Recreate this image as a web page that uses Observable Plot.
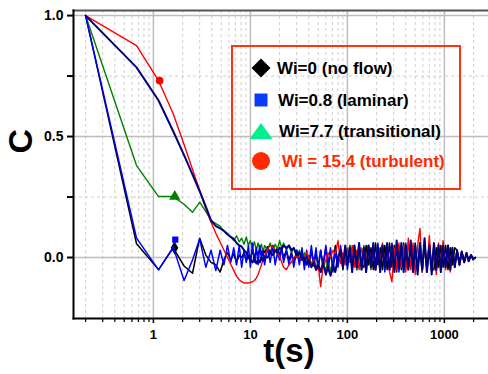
<!DOCTYPE html>
<html>
<head>
<meta charset="utf-8">
<script src="https://cdn.jsdelivr.net/npm/d3@7"></script>
<script src="https://cdn.jsdelivr.net/npm/@observablehq/plot@0.6"></script>
<style>
  html, body { margin: 0; padding: 0; background: #fff; }
  #wrap { position: relative; width: 488px; height: 374px; font-family: "Liberation Sans", Arial, sans-serif; }
  #legend { position: absolute; left: 231px; top: 45px; width: 230px; height: 145px; border: 2px solid #ff3311; box-sizing: border-box; }
  .lrow { position: absolute; left: 0; height: 22px; width: 220px; }
  .lrow svg { position: absolute; left: 15px; top: -1px; }
  .lrow span { position: absolute; top: 0; line-height: 22px; font-size: 17px; font-weight: bold; white-space: nowrap; }
</style>
</head>
<body>
<div id="wrap">
  <div id="chart"></div>
  <div id="legend"></div>
</div>
<script>
// ---- data ----
const times = [
  0.2, 0.67, 1.13, 1.6, 2.07, 2.53, 3.0, 3.47, 3.93, 4.4,
  4.87, 5.33, 5.8, 6.27, 6.73, 7.2, 7.67, 8.13, 8.6, 9.07,
  9.53, 10.0, 10.5, 11, 11.5, 12, 12.5, 13, 13.5, 14,
  15, 16, 17, 18, 19, 20, 21, 22, 23.5, 25,
  26.5, 28, 30, 32, 34, 36, 38, 40, 42.5, 45,
  47.5, 50, 53, 56, 60, 63, 67, 71, 75, 80,
  85, 90, 95, 100, 106, 112, 118, 125, 132, 140,
  148, 156, 165, 175, 185, 195, 206, 218, 230, 243,
  257, 272, 288, 305, 322, 340, 360, 380, 400, 425,
  450, 475, 500, 530, 560, 590, 625, 660, 700, 740,
  780, 825, 870, 920, 970, 1030, 1090, 1150, 1210, 1280,
  1350, 1430, 1510, 1600, 1690, 1780, 1880, 1980, 2080
];

const cNoFlow = [
  1.0, 0.057, -0.05, 0.04, -0.035, -0.065, 0.08, 0.01, -0.02, -0.03,
  -0.06, -0.01, 0.02, -0.01, 0.015, -0.02, 0.01, 0.0, 0.02, -0.015,
  0.01, 0.0, 0.025, 0.0, 0.03, 0.01, 0.04, 0.015, 0.035, 0.02,
  0.045, 0.02, 0.05, 0.025, 0.04, 0.01, 0.035, 0.0, 0.03, -0.01,
  0.02, -0.02, 0.03, -0.01, 0.02, -0.03, 0.01, -0.02, 0.025, -0.035,
  0.02, -0.04, 0.03, -0.03, 0.04, -0.05, 0.02, -0.04, 0.05, -0.03,
  0.03, -0.05, 0.04, -0.02, 0.05, -0.04, 0.03, -0.05, 0.04, -0.03,
  -0.04, 0.05, -0.03, 0.04, -0.05, 0.06, -0.03, 0.04, -0.05, 0.05,
  -0.05, 0.06, -0.04, 0.05, -0.06, 0.04, -0.05, 0.06, -0.04, 0.05,
  0.05, -0.04, 0.06, -0.05, 0.04, -0.06, 0.05, -0.04, 0.06, -0.05,
  -0.05, 0.04, -0.04, 0.05, -0.04, 0.05, -0.05, 0.04, -0.03, 0.04,
  0.03, -0.03, 0.02, -0.02, 0.015, -0.015, 0.01, -0.01, 0.0
];

const cLaminar = [
  1.0, 0.08, -0.051, 0.043, -0.095, -0.01, 0.077, -0.04, 0.03, -0.054,
  0.03, -0.03, 0.05, -0.02, 0.04, -0.03, 0.05, -0.04, 0.03, -0.02,
  0.05, -0.04, 0.06, -0.02, 0.04, -0.03, 0.05, -0.01, 0.03, -0.03,
  0.04, -0.02, 0.05, -0.03, 0.02, -0.01, 0.04, -0.02, 0.03, -0.03,
  0.02, -0.04, 0.03, -0.03, 0.04, -0.05, 0.03, -0.04, 0.05, -0.03,
  0.04, -0.05, 0.03, -0.04, 0.05, -0.03, 0.04, -0.06, 0.03, -0.04,
  0.05, -0.03, 0.04, -0.05, 0.03, -0.04, 0.05, -0.03, 0.06, -0.05,
  0.04, -0.06, 0.05, -0.04, 0.03, -0.05, 0.06, -0.04, 0.05, -0.06,
  0.04, -0.05, 0.06, -0.04, 0.05, -0.06, 0.04, -0.05, 0.06, -0.04,
  0.05, -0.06, 0.04, -0.05, 0.06, -0.04, 0.05, -0.06, 0.04, -0.05,
  0.05, -0.04, 0.04, -0.05, 0.04, -0.04, 0.05, -0.03, 0.03, -0.04,
  0.03, -0.02, 0.025, -0.02, 0.015, -0.01, 0.01, -0.005, 0.0
];

const cTransitional = [
  1.0, 0.38, 0.252, 0.252, 0.22, 0.187, 0.229, 0.19, 0.153, 0.14,
  0.13, 0.11, 0.1, 0.085, 0.07, 0.09, 0.065, 0.08, 0.055, 0.085,
  0.05, 0.07, 0.04, 0.065, 0.03, 0.06, 0.035, 0.055, 0.02, 0.05,
  0.03, 0.06, 0.025, 0.055, 0.035, 0.07, 0.04, 0.06, 0.03, 0.05,
  0.02, 0.04, 0.0, 0.03, -0.01, 0.02, -0.02, 0.01, -0.03, 0.0,
  -0.04, -0.02, -0.06, -0.03, -0.05, -0.01, -0.055, -0.02, 0.01, -0.03,
  0.03, -0.04, 0.02, -0.03, 0.05, -0.02, 0.04, -0.05, 0.03, -0.04,
  0.05, -0.03, 0.04, -0.05, 0.03, -0.04, 0.05, -0.03, 0.04, -0.05,
  0.03, -0.04, 0.05, -0.05, 0.04, -0.03, 0.05, -0.04, 0.03, -0.05,
  0.04, -0.05, 0.03, -0.04, 0.05, -0.06, 0.04, -0.03, 0.05, -0.04,
  0.03, -0.05, 0.04, -0.03, 0.04, -0.04, 0.03, -0.04, 0.03, -0.03,
  0.02, -0.03, 0.02, -0.02, 0.01, -0.015, 0.01, -0.005, 0.0
];

const cTurbulent = [
  1.0, 0.876, 0.731, 0.594, 0.467, 0.364, 0.277, 0.202, 0.146, 0.1,
  0.064, 0.031, 0.0, -0.028, -0.053, -0.077, -0.092, -0.1, -0.105, -0.105,
  -0.105, -0.103, -0.1, -0.095, -0.085, -0.07, -0.05, -0.03, -0.01, 0.005,
  0.035, 0.05, 0.045, 0.03, 0.015, 0.005, -0.02, -0.04, -0.05, -0.03,
  -0.02, 0.0, 0.008, 0.0, -0.01, -0.005, 0.02, 0.0, -0.03, -0.01,
  -0.054, -0.03, -0.12, -0.04, -0.01, 0.02, 0.0, 0.03, 0.016, 0.07,
  -0.025, 0.02, -0.03, 0.04, -0.02, 0.05, -0.04, 0.03, -0.05, 0.04,
  0.0, -0.04, 0.05, -0.03, 0.04, -0.05, 0.03, -0.02, 0.06, -0.04,
  0.05, -0.06, -0.1, 0.04, -0.05, 0.06, -0.04, 0.05, -0.06, 0.08,
  -0.05, 0.06, -0.07, 0.05, 0.12, -0.06, 0.07, -0.05, 0.09, -0.06,
  0.05, -0.07, 0.06, -0.04, 0.07, -0.05, 0.05, -0.06, 0.04, -0.04,
  0.03, -0.03, 0.025, -0.02, 0.02, -0.015, 0.01, -0.005, 0.0
];

const cNavy = [
  1.0, 0.786, 0.649, 0.522, 0.423, 0.343, 0.274, 0.21, 0.153, 0.13,
  0.12, 0.11, 0.095, 0.085, 0.077, 0.06, 0.05, 0.045, 0.03, 0.02,
  0.0, -0.01, -0.02, 0.0, -0.025, -0.01, -0.02, 0.0, -0.015, 0.005,
  0.0, 0.02, 0.01, 0.03, 0.02, 0.04, 0.035, 0.05, 0.04, 0.05,
  0.03, 0.04, 0.01, 0.02, -0.01, 0.0, -0.03, -0.01, -0.04, -0.02,
  -0.05, -0.03, -0.06, -0.02, -0.07, -0.04, -0.075, -0.03, -0.06, 0.0,
  0.03, -0.04, 0.05, -0.03, 0.04, -0.06, 0.05, -0.04, 0.06, -0.05,
  0.04, -0.06, 0.05, -0.04, 0.06, -0.05, 0.04, -0.06, 0.05, -0.04,
  0.06, -0.05, 0.05, -0.06, 0.07, -0.04, 0.06, -0.06, 0.05, -0.05,
  0.07, -0.06, 0.05, -0.07, 0.06, -0.05, 0.08, -0.06, 0.05, -0.07,
  0.06, -0.05, 0.05, -0.06, 0.05, -0.04, 0.05, -0.05, 0.04, -0.04,
  0.03, -0.03, 0.025, -0.02, 0.02, -0.015, 0.01, -0.005, 0.0
];

// markers on the curves
const markerT = [1.65, 1.68, 1.66, 1.16];
const markerC = [0.04, 0.074, 0.252, 0.731];

// legend
const legendLabels = ["Wi=0 (no flow)", "Wi=0.8 (laminar)", "Wi=7.7 (transitional)", "Wi = 15.4 (turbulent)"];
const legendSymbols = ["diamond", "square", "triangle", "circle"];
const legendMarkerColors = ["#000000", "#0a3cff", "#00f08c", "#ff2a00"];
const legendTextColors = ["#000000", "#000000", "#000000", "#ff2a00"];

// axes
const xDomain = [0.15, 2850];
const yDomain = [-0.252, 1.021];
const xMajorTicks = [1, 10, 100, 1000];
const xMinorTicks = [0.2, 0.3, 0.4, 0.5, 0.6, 0.7, 0.8, 0.9, 2, 3, 4, 5, 6, 7, 8, 9,
  20, 30, 40, 50, 60, 70, 80, 90, 200, 300, 400, 500, 600, 700, 800, 900, 2000];
const yMajorTicks = [0, 0.5, 1.0];
const yMinorTicks = [0.25, 0.75];
const xLabel = "t(s)";
const yLabel = "C";

// ---- build ----
const mk = vals => times.map((t, i) => ({t, c: vals[i]}));
const lineOf = (vals, color, w) => Plot.line(mk(vals), {x: "t", y: "c", stroke: color, strokeWidth: w, strokeLinejoin: "round"});
const mIdx = i => [{t: markerT[i], c: markerC[i]}];

const chart = Plot.plot({
  width: 488,
  height: 374,
  marginLeft: 73,
  marginRight: 0,
  marginTop: 10,
  marginBottom: 56,
  style: {fontFamily: "'Liberation Sans', Arial, sans-serif", background: "#fff", color: "#000"},
  x: {type: "log", domain: xDomain},
  y: {domain: yDomain},
  marks: [
    Plot.gridX(xMinorTicks, {stroke: "#cfcfcf", strokeOpacity: 1, strokeWidth: 1, strokeDasharray: "3,3"}),
    Plot.gridY(yMinorTicks, {stroke: "#cfcfcf", strokeOpacity: 1, strokeWidth: 1, strokeDasharray: "3,3"}),
    Plot.gridX(xMajorTicks, {stroke: "#bdbdbd", strokeOpacity: 1, strokeWidth: 1.5}),
    Plot.gridY(yMajorTicks, {stroke: "#bdbdbd", strokeOpacity: 1, strokeWidth: 1.5}),
    lineOf(cNoFlow, "#000000", 1.5),
    Plot.dot(mIdx(0), {x: "t", y: "c", symbol: "diamond", r: 4, fill: "#000000"}),
    lineOf(cTransitional, "#008000", 1.4),
    lineOf(cLaminar, "#0000ff", 1.5),
    lineOf(cTurbulent, "#ff0000", 1.4),
    lineOf(cNavy, "#000080", 2),
    Plot.dot(mIdx(1), {x: "t", y: "c", symbol: "square", r: 3.5, fill: "#0000ff"}),
    Plot.dot(mIdx(2), {x: "t", y: "c", symbol: "triangle", r: 4.2, fill: "#008000"}),
    Plot.dot(mIdx(3), {x: "t", y: "c", symbol: "circle", r: 3.8, fill: "#ff0000"}),
    Plot.axisX(xMinorTicks, {tickSize: 4, tickFormat: () => "", label: null, strokeWidth: 1.2}),
    Plot.axisX(xMajorTicks, {tickSize: 5, tickPadding: 6, tickFormat: d => String(d), fontSize: 13, fontWeight: "bold", label: null, strokeWidth: 1.5}),
    Plot.axisY(yMinorTicks, {tickSize: 6, tickFormat: () => "", label: null, strokeWidth: 2}),
    Plot.axisY(yMajorTicks, {tickSize: 6, tickPadding: 4, tickFormat: d => d.toFixed(1), fontSize: 14, fontWeight: "bold", label: null, strokeWidth: 2}),
    Plot.frame({anchor: "top", stroke: "#555", strokeWidth: 2}),
    Plot.frame({anchor: "left", stroke: "#000", strokeWidth: 2}),
    Plot.frame({anchor: "bottom", stroke: "#000", strokeWidth: 2}),
    Plot.text([yLabel], {text: d => d, frameAnchor: "left", dx: -52, dy: -11, rotate: -90, fontSize: 34, fontWeight: "bold"}),
    Plot.text([xLabel], {text: d => d, frameAnchor: "bottom", dx: 8, dy: 43, fontSize: 33, fontWeight: "bold"})
  ]
});
document.getElementById("chart").appendChild(chart);

// ---- legend ----
const legend = document.getElementById("legend");
const rowCenters = [22.3, 53.7, 84.5, 115.3];
const textLeft = [44, 45, 46, 49];
const symSvg = (s, color) => {
  let shape = "";
  if (s === "diamond") shape = `<polygon points="13,1.5 22.5,11 13,20.5 3.5,11" fill="${color}"/>`;
  if (s === "square") shape = `<rect x="6.5" y="4.5" width="13" height="13" fill="${color}"/>`;
  if (s === "triangle") shape = `<polygon points="13,3 24.5,19 1.5,19" fill="${color}"/>`;
  if (s === "circle") shape = `<circle cx="13" cy="11" r="9" fill="${color}"/>`;
  return `<svg width="26" height="22" viewBox="0 0 26 22">${shape}</svg>`;
};
legendLabels.forEach((lab, i) => {
  const row = document.createElement("div");
  row.className = "lrow";
  row.style.top = (rowCenters[i] - 11) + "px";
  row.innerHTML = symSvg(legendSymbols[i], legendMarkerColors[i]) +
    `<span style="left:${textLeft[i]}px;color:${legendTextColors[i]}">${lab}</span>`;
  legend.appendChild(row);
});
</script>
</body>
</html>
